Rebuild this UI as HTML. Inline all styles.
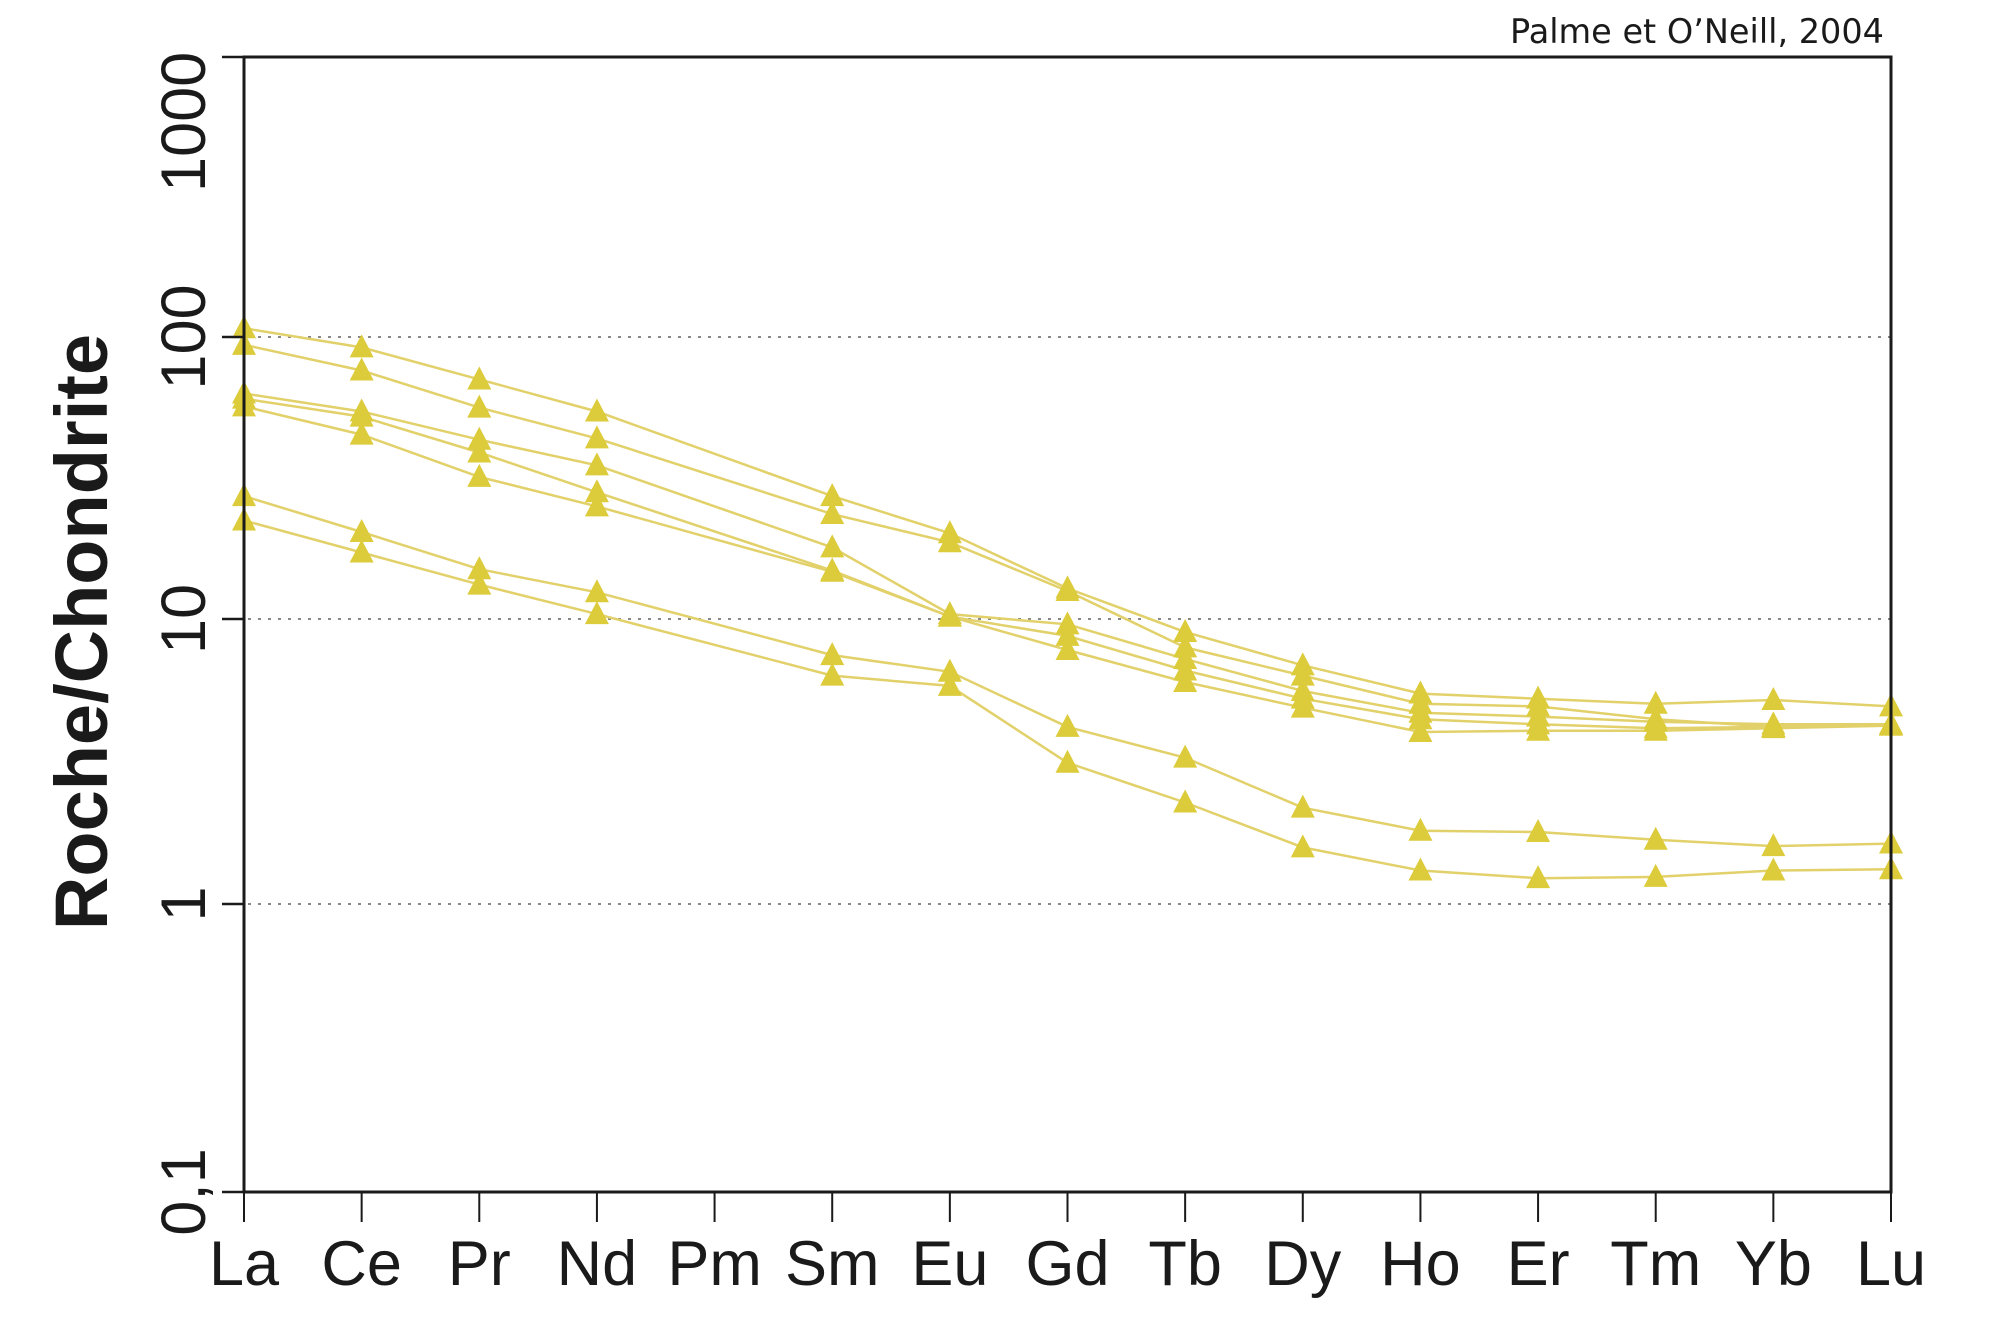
<!DOCTYPE html>
<html><head><meta charset="utf-8"><style>
html,body{margin:0;padding:0;background:#fff;}
svg{display:block;}
</style></head><body>
<svg id="c" xmlns="http://www.w3.org/2000/svg" width="1999" height="1344" viewBox="0 0 1999 1344">
<rect width="1999" height="1344" fill="#fff"/>
<g stroke="#888" stroke-width="2" stroke-dasharray="3,7">
<line x1="248" y1="337" x2="1890" y2="337"/>
<line x1="248" y1="619" x2="1890" y2="619"/>
<line x1="248" y1="904" x2="1890" y2="904"/>
</g>
<g id="series"></g>
<rect x="244" y="57" width="1647" height="1135" fill="none" stroke="#1a1a1a" stroke-width="3"/>
<g stroke="#1a1a1a" stroke-width="2.5">
<line x1="222" y1="57" x2="244" y2="57"/>
<line x1="222" y1="337" x2="244" y2="337"/>
<line x1="222" y1="619" x2="244" y2="619"/>
<line x1="222" y1="904" x2="244" y2="904"/>
<line x1="222" y1="1192" x2="244" y2="1192"/>
</g>
<g id="xt" stroke="#1a1a1a" stroke-width="2"></g>
<g font-family="Liberation Sans, sans-serif" font-size="63" fill="#1a1a1a">
<text transform="translate(205,192) rotate(-90)" text-anchor="start">1000</text>
<text transform="translate(205,337) rotate(-90)" text-anchor="middle">100</text>
<text transform="translate(205,619) rotate(-90)" text-anchor="middle">10</text>
<text transform="translate(205,904) rotate(-90)" text-anchor="middle">1</text>
<text transform="translate(205,1192) rotate(-90)" text-anchor="middle">0,1</text>
</g>
<text transform="translate(107,632) rotate(-90)" text-anchor="middle" font-family="Liberation Sans, sans-serif" font-weight="bold" font-size="74" fill="#1a1a1a">Roche/Chondrite</text>
<text x="1884" y="43" text-anchor="end" font-family="DejaVu Sans, Liberation Sans, sans-serif" font-size="33.5" fill="#1a1a1a">Palme et O’Neill, 2004</text>
<g id="xl" font-family="Liberation Sans, sans-serif" font-size="63" fill="#1a1a1a" text-anchor="middle"></g>
</svg>
<script>
var NS="http://www.w3.org/2000/svg";
var labs=["La","Ce","Pr","Nd","Pm","Sm","Eu","Gd","Tb","Dy","Ho","Er","Tm","Yb","Lu"];
function X(i){return 244+i*(1891-244)/14;}
var xt=document.getElementById("xt"),xl=document.getElementById("xl");
labs.forEach(function(l,i){
 var ln=document.createElementNS(NS,"line");
 ln.setAttribute("x1",X(i));ln.setAttribute("x2",X(i));ln.setAttribute("y1",1192);ln.setAttribute("y2",1222);xt.appendChild(ln);
 var t=document.createElementNS(NS,"text");t.setAttribute("x",X(i));t.setAttribute("y",1285);t.textContent=l;xl.appendChild(t);
});
var idx=[0,1,2,3,5,6,7,8,9,10,11,12,13,14];
var S=[
[257,272,297,322,388,417,460,494,520,542,546,550,547,552],
[270,290,319,343,402,424,462,506,528,550,552,562,568,567],
[308,322,344,364,428,480,488,515,540,557,560,564,566,566],
[312,326,354,385,446,482,497,524,546,562,566,569,568,566],
[318,340,373,396,447,482,508,533,553,572,571,571,569,567],
[388,416,445,463,512,525,568,592,631,649,650,656,661,659],
[407,432,457,480,528,536,596,627,662,680,686,685,680,679]];
var g=document.getElementById("series");
var lines="",tris="";
S.forEach(function(s){
 var pts=s.map(function(d,k){var y=d*1.277; if(y>337) y+=(y-337)*0.004; return [X(idx[k]),y];});
 lines+='<polyline fill="none" stroke="#e2d16a" stroke-width="2.5" points="'+pts.map(function(p){return p[0].toFixed(1)+","+p[1].toFixed(1)}).join(" ")+'"/>';
 pts.forEach(function(p){
  var x=p[0],y=p[1];
  tris+='<polygon fill="#dccb3a" points="'+(x-12)+','+(y+10)+' '+(x+12)+','+(y+10)+' '+x+','+(y-13)+'"/>';
 });
});
g.innerHTML=lines+tris;
</script>
</body></html>
